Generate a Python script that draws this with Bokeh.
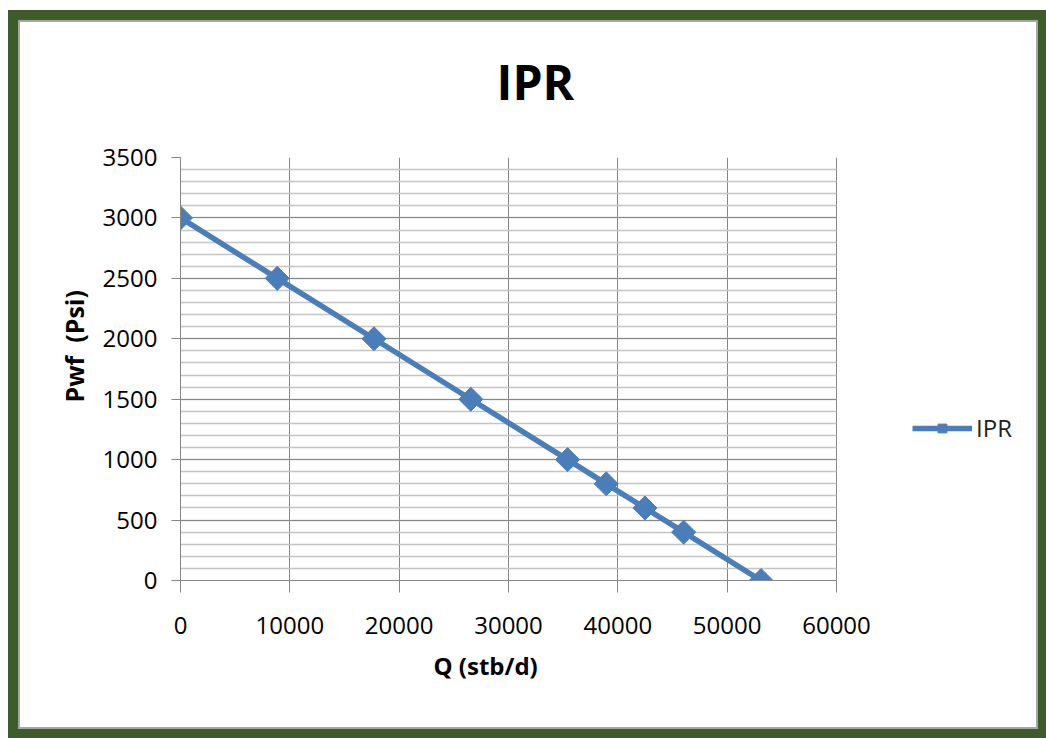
import math
from bokeh.plotting import figure
from bokeh.models import Range1d, SingleIntervalTicker, Legend, LegendItem, InlineStyleSheet, Title
from bokeh.embed import file_html
from bokeh.resources import INLINE

# Data
q_stb_d = [0, 8850, 17700, 26550, 35400, 38940, 42480, 46020, 53100]
pwf_psi = [3000, 2500, 2000, 1500, 1000, 800, 600, 400, 0]
series_name = "IPR"
title_text = "IPR"
x_label = "Q (stb/d)"
y_label = "Pwf\u00a0\u00a0(Psi)"
x_axis_max = 60000
y_axis_max = 3500

BLUE = "#4a7ebb"
FONT = "Open Sans"

# layout in pixels: plot area 180..836 wide; frame is extended to the right to host the legend
W, H = 1046, 738
left, axis_right, frame_right = 180, 836, 1040
x_frame_max = x_axis_max * (frame_right - left) / (axis_right - left)

p = figure(width=W, height=H, output_backend="svg", toolbar_location=None,
           x_range=Range1d(0, x_frame_max), y_range=Range1d(0, y_axis_max),
           min_border_left=left, min_border_right=W - frame_right, min_border_top=157, min_border_bottom=158,
           background_fill_color="white", border_fill_color="white")
p.outline_line_color = None

# title
p.title.text = title_text
p.title.align = "left"
p.title.offset = 316
p.title.text_font = FONT
p.title.text_font_size = "48px"
p.title.text_font_style = "bold"
p.title.text_color = "black"
p.title.standoff = 88

# axes
for ax in (p.xaxis[0], p.yaxis[0]):
    ax.axis_line_color = "#868686"
    ax.major_tick_line_color = "#868686"
    ax.minor_tick_line_color = None
    ax.major_tick_in = 0
    ax.major_label_text_font = FONT
    ax.major_label_text_font_size = "24px"
    ax.major_label_text_color = "black"

p.xaxis.ticker = SingleIntervalTicker(interval=10000, num_minor_ticks=0)
p.yaxis.ticker = SingleIntervalTicker(interval=500, num_minor_ticks=5)
p.xaxis.bounds = (0, x_axis_max)
p.xaxis.major_tick_out = 12
p.yaxis.major_tick_out = 9
p.xaxis.major_label_standoff = 24
p.yaxis.major_label_standoff = 14

# axis titles placed as side titles so they can be positioned like the reference
xt = Title(text=x_label, align="left", offset=253, standoff=21,
           text_font=FONT, text_font_size="24px", text_font_style="bold", text_color="black")
p.add_layout(xt, "below")
yt = Title(text=y_label, align="left", offset=178, standoff=18,
           text_font=FONT, text_font_size="25px", text_font_style="bold", text_color="black")
p.add_layout(yt, "left")

# grids
p.xgrid.grid_line_color = "#868686"
p.xgrid.bounds = (0, x_axis_max)
p.ygrid.grid_line_color = "#868686"
p.ygrid.minor_grid_line_color = "#c4c4c4"
p.ygrid.minor_grid_line_width = 1.5
p.ygrid.cross_bounds = (0, x_axis_max)

line = p.line(q_stb_d, pwf_psi, line_color=BLUE, line_width=5.5)
pts = p.scatter(q_stb_d, pwf_psi, marker="square", angle=math.pi / 4, size=17,
                fill_color=BLUE, line_color=BLUE)

legend = Legend(items=[LegendItem(label=series_name, renderers=[line, pts])],
                location=(732, 136), glyph_width=60, glyph_height=22,
                label_text_font=FONT, label_text_font_size="24px", label_text_color="#222222",
                border_line_color=None, background_fill_alpha=0,
                label_standoff=4, padding=0, margin=0)
p.add_layout(legend, "center")

frame_css = InlineStyleSheet(css="""
.bk-Canvas::after {
  content: '';
  position: absolute;
  left: 8px; top: 10px; right: -2px; bottom: -1px;
  border: 10px solid #3e5b2a;
  box-shadow: inset 0 0 0 2px #a6a6a6;
  pointer-events: none;
  z-index: 100;
}
""")
p.stylesheets = [frame_css]

open("out.html", "w").write(file_html(p, INLINE))
